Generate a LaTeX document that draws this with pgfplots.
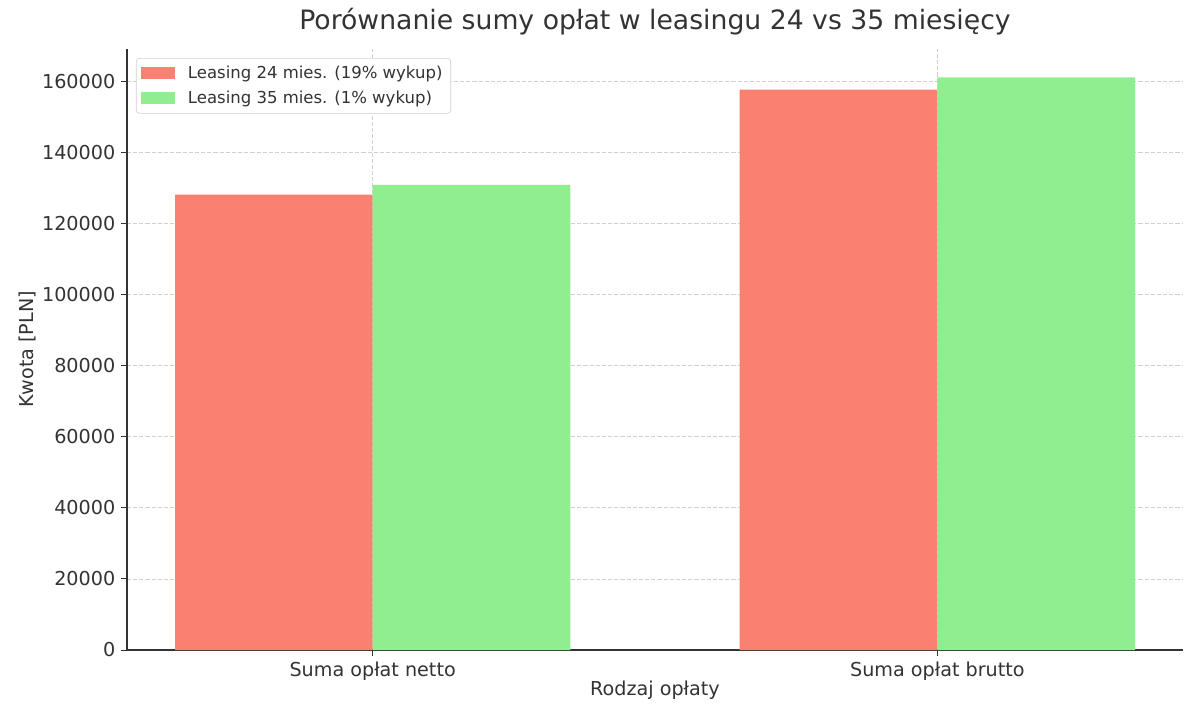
\documentclass[border=0pt]{standalone}
\usepackage{fontspec}
\setmainfont{DejaVu Sans}
\usepackage{pgfplots}
\pgfplotsset{compat=1.18}
\definecolor{salmon}{HTML}{FA8072}
\definecolor{lightgreen}{HTML}{90EE90}
\definecolor{txt}{HTML}{333333}
\definecolor{gridc}{HTML}{D0D0D0}

\begin{document}
\begin{tikzpicture}
\begin{axis}[
    name=ax,
    scale only axis,
    width=633.6pt, height=360.6pt,
    xmin=-0.435, xmax=1.435,
    ymin=0, ymax=169100,
    xtick={0,1},
    xticklabels={Suma opłat netto, Suma opłat brutto},
    ytick={0,20000,...,160000},
    scaled y ticks=false,
    yticklabel style={/pgf/number format/fixed, /pgf/number format/precision=0,
                      /pgf/number format/1000 sep={},
                      /pgf/number format/assume math mode=true},
    axis x line*=bottom, axis y line*=left,
    axis line style={-, txt, line width=0.8pt},
    tick align=outside, major tick length=3.5pt,
    tick style={txt, line width=0.6pt},
    ticklabel style={font=\fontsize{11.5}{13}\selectfont, text=txt},
    xmajorgrids, ymajorgrids,
    major grid style={gridc, line width=0.5pt, dash pattern=on 2.5pt off 1.2pt},
    title={Porównanie sumy opłat w leasingu 24 vs 35 miesięcy},
    title style={at={(axis description cs:0.5,1)}, anchor=base, yshift=5.6pt,
                 font=\fontsize{16}{19}\selectfont, text=txt},
    xlabel={Rodzaj opłaty},
    xlabel style={at={(axis description cs:0.5,0)}, anchor=center, yshift=-24pt,
                  font=\fontsize{11.5}{13}\selectfont, text=txt},
    ylabel={Kwota [PLN]},
    ylabel style={at={(axis description cs:-0.0947,0.5)}, anchor=center,
                  font=\fontsize{11.5}{13}\selectfont, text=txt},
    legend style={at={(axis description cs:0,1)}, anchor=north west,
                  xshift=5.4pt, yshift=-5.4pt, draw=gridc, rounded corners=2pt,
                  fill=white, font=\fontsize{9.9}{11.5}\selectfont, text=txt,
                  inner xsep=3pt, inner ysep=2.5pt, row sep=2pt},
    legend cell align=left,
    legend image code/.code={%
        \path[#1, sharp corners] (0pt,-3.6pt) rectangle (20pt,3.6pt);
        \path (26pt,0pt);},
]
\addplot[ybar, bar width=0.35, bar shift=-0.175, fill=salmon, draw=none]
    coordinates {(0,128100) (1,157650)};
\addlegendentry{Leasing 24 mies. (19\% wykup)}
\addplot[ybar, bar width=0.35, bar shift=0.175, fill=lightgreen, draw=none]
    coordinates {(0,130900) (1,161100)};
\addlegendentry{Leasing 35 mies. (1\% wykup)}
\coordinate (sw) at (rel axis cs:0,0);
\coordinate (ne) at (rel axis cs:1,1);
\end{axis}
\pgfresetboundingbox
\path ([shift={(-76.2pt,-42pt)}]sw) rectangle ([shift={(10.2pt,29.4pt)}]ne);
\end{tikzpicture}
\end{document}
